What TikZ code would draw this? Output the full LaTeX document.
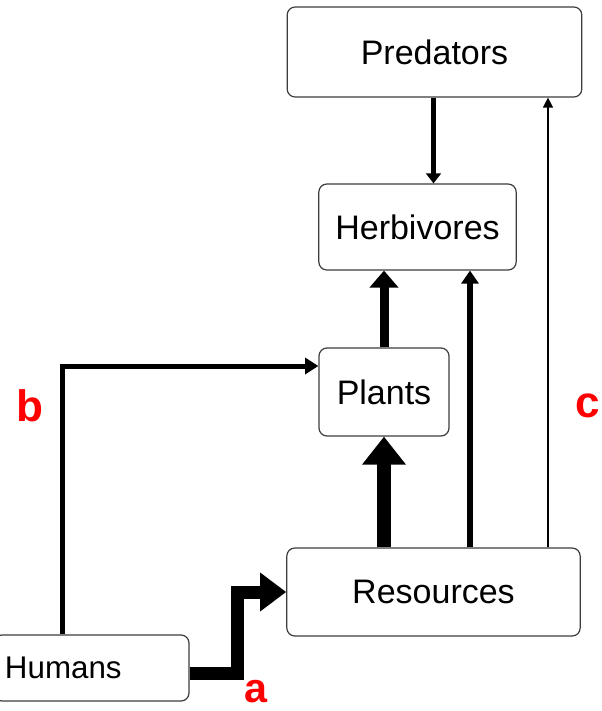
\documentclass[tikz,border=0pt]{standalone}
\usepackage{fontspec}
\setmainfont{Liberation Sans}
\usetikzlibrary{arrows.meta}

\tikzset{every picture/.style={line width=0.75pt}}
\tikzset{
box/.style={draw={rgb, 255:red, 60; green, 60; blue, 60}, line width=0.9pt, rounded corners=6pt, fill=white, font=\fontsize{25.5}{30}\selectfont, inner sep=0pt},
lbl/.style={text={rgb, 255:red, 255; green, 0; blue, 0}, font=\fontsize{33}{36}\selectfont\bfseries, inner sep=0pt},
flow/.style={line join=miter, line cap=butt}}

\begin{document}
\begin{tikzpicture}[x=0.75pt,y=0.75pt,yscale=-1,xscale=1]
\useasboundingbox (0,0) rectangle (601,711);

% Shapes
\node [box, minimum width=221pt, minimum height=67.5pt] (pred) at (434.5,52) {Predators};
\node [box, minimum width=148pt, minimum height=64.5pt] (herb) at (417.5,227) {Herbivores};
\node [box, minimum width=97.5pt, minimum height=66pt] (plants) at (384,392) {Plants};
\node [box, minimum width=220pt, minimum height=66pt] (res) at (433.5,592) {Resources};
\node [box, minimum height=49.5pt, text width=129.75pt, align=left, inner xsep=8.25pt, font=\fontsize{23.5}{28}\selectfont] (hum) at (91.5,668) {Humans};

% bend points
\coordinate (hx) at (470,0);
\coordinate (cx) at (548,0);
\coordinate (bturn) at (62,366);
\coordinate (aturn) at (237,592);

% Straight Lines
\draw [flow, line width=10.5pt, -{Triangle[width=31.5pt, length=21pt]}] (res.north -| plants) -- (plants.south);
\draw [flow, line width=6.75pt, -{Triangle[width=21pt, length=12.75pt]}] (plants.north) -- (herb.south -| plants);
\draw [flow, line width=4.5pt, -{Triangle[width=12.75pt, length=9.75pt]}] (res.north -| hx) -- (herb.south -| hx);
\draw [flow, line width=1.1pt, -{Triangle[width=7.5pt, length=7.5pt]}] (res.north -| cx) -- (pred.south -| cx);
\draw [flow, line width=4pt, -{Triangle[width=11pt, length=7.5pt]}] (pred.south -| res) -- (herb.north -| res);
\draw [flow, line width=3.75pt, -{Triangle[width=12pt, length=10pt]}] (hum.north -| bturn) -- (bturn) -- (plants.west |- bturn);
\draw [flow, line width=9.75pt, -{Triangle[width=27.75pt, length=19.5pt]}] ([yshift=3.75pt]hum.east) -| (aturn) -- (res.west);

% Text Node
\node [lbl, font=\fontsize{31}{34}\selectfont\bfseries] (la) at (256,692) {a};
\node [lbl] (lb) at (30,406) {b};
\node [lbl] (lc) at (588,406) {c};

\end{tikzpicture}
\end{document}
